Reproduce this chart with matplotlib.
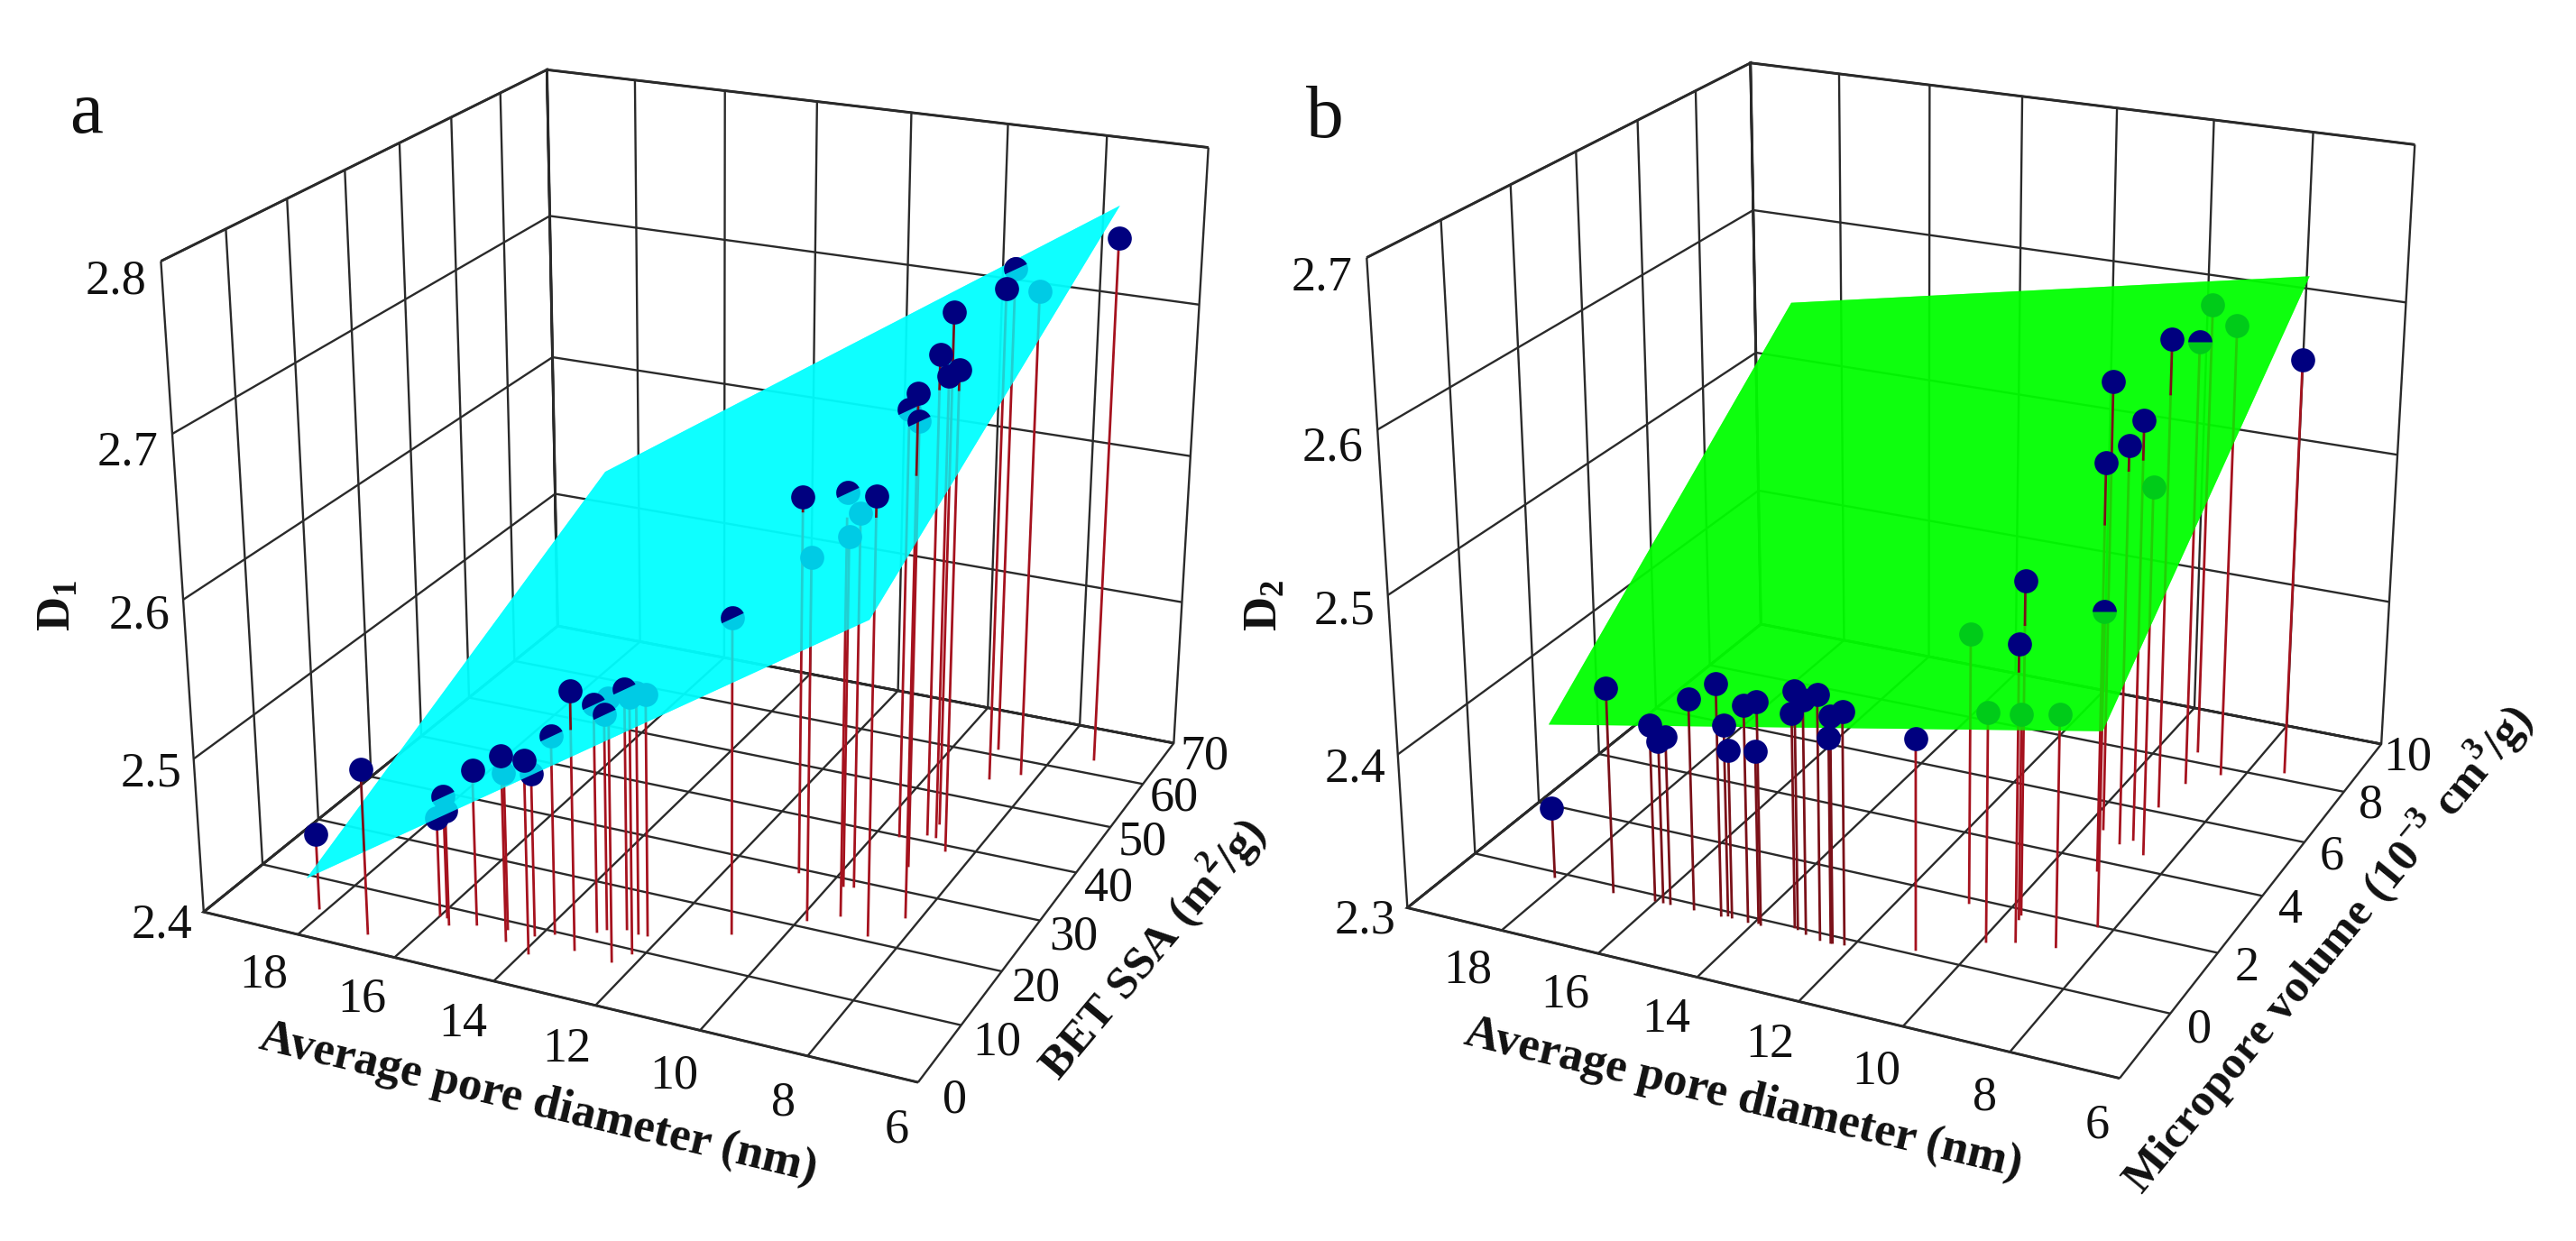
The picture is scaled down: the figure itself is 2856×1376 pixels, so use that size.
import numpy as np
import matplotlib
matplotlib.use('Agg')
import matplotlib.pyplot as plt
from matplotlib.markers import MarkerStyle
from matplotlib.ticker import NullFormatter
from matplotlib.transforms import Affine2D
from mpl_toolkits.mplot3d import proj3d

plt.rcParams['font.family'] = ['Liberation Serif', 'DejaVu Serif']
plt.rcParams['mathtext.fontset'] = 'custom'
plt.rcParams['mathtext.rm'] = 'Liberation Serif'
plt.rcParams['mathtext.bf'] = 'Liberation Serif:bold'
plt.rcParams['grid.color'] = '#2a2a2a'
plt.rcParams['grid.linewidth'] = 0.85

# panel a  pore diameter, BET SSA, D1
a_x = [18.15, 16.87, 15.86, 16.01, 15.70, 15.24, 14.48, 14.65, 13.90, 14.10, 13.80, 13.21, 13.14, 12.42, 13.02, 12.69, 12.22,
       12.25, 12.43, 10.90, 10.72, 9.86, 9.37, 9.57, 9.76, 8.64, 8.27, 9.55, 8.95, 9.09, 8.90, 8.54, 9.04, 8.84, 9.14, 8.34, 7.23]
a_y = [4.96, 2.76, 8.33, 8.35, 7.23, 8.27, 6.74, 8.69, 5.58, 8.68, 9.71, 7.84, 11.58, 7.35, 12.39, 13.13, 9.40,
       12.87, 12.83, 16.29, 29.40, 21.38, 23.40, 28.94, 28.69, 21.05, 25.53, 39.94, 34.76, 41.38, 41.22, 39.03, 43.95, 54.93, 61.53, 57.15, 63.18]
a_z = [2.449, 2.506, 2.479, 2.464, 2.474, 2.500, 2.519, 2.501, 2.523, 2.504, 2.527, 2.564, 2.546, 2.566, 2.538, 2.554, 2.562,
       2.554, 2.554, 2.600, 2.643, 2.630, 2.667, 2.640, 2.625, 2.674, 2.726, 2.679, 2.686, 2.712, 2.700, 2.710, 2.733, 2.727, 2.726, 2.723, 2.750]
# 1 = in front of the plane, 0 = behind it, 2 = cut by it
a_side = [1, 1, 2, 0, 0, 1, 1, 0, 1, 0, 2, 1, 2, 0, 2, 2, 0, 0, 0, 2, 1, 0, 2, 0, 0, 1, 1, 2, 2, 1, 1, 1, 1, 1, 2, 0, 1]
a_plane_x = [18.077, 7.232, 7.232, 18.077]
a_plane_y = [2.52, 2.52, 62.998, 62.998]
a_plane_z = [2.4282, 2.6566, 2.7709, 2.5425]

# panel b  pore diameter, micropore volume, D2
b_x = [18.17, 16.89, 16.04, 15.87, 15.72, 15.23, 14.67, 14.56, 14.46, 14.12, 13.86, 13.93, 13.18, 12.97, 12.64, 13.26, 12.39, 12.17, 12.42,
       10.93, 10.78, 9.91, 9.71, 8.70, 9.43, 9.74, 8.31, 9.13, 9.16, 9.66, 8.98, 8.59, 9.05, 8.94, 9.22, 8.45, 7.34]
b_y = [-0.14, -0.19, -0.15, -0.15, -0.15, -0.15, -0.15, -0.10, -0.13, -0.15, -0.15, -0.11, -0.03, -0.11, -0.19, 0.00, -0.19, -0.16, -0.20,
       0.15, 1.85, 0.83, 1.70, 1.13, 1.02, 1.85, 2.00, 3.69, 4.71, 5.06, 4.92, 4.52, 6.20, 7.20, 8.41, 7.76, 8.28]
b_z = [2.346, 2.433, 2.414, 2.405, 2.409, 2.436, 2.449, 2.423, 2.408, 2.439, 2.443, 2.411, 2.452, 2.449, 2.456, 2.437, 2.444, 2.448, 2.431,
       2.434, 2.473, 2.446, 2.432, 2.448, 2.488, 2.512, 2.500, 2.562, 2.559, 2.592, 2.573, 2.539, 2.607, 2.594, 2.602, 2.600, 2.577]
b_side = [1, 1, 1, 1, 1, 1, 1, 1, 1, 1, 1, 1, 1, 1, 1, 1, 1, 1, 1, 1, 0, 0, 0, 0, 1, 1, 2, 1, 1, 1, 1, 0, 1, 2, 0, 0, 1]
b_plane_x = [18.26, 7.37, 7.37, 18.26]
b_plane_y = [0.003, 0.003, 8.517, 8.517]
b_plane_z = [2.3976, 2.4645, 2.6274, 2.5605]

x_ticks = [20, 18, 16, 14, 12, 10, 8, 6]
a_y_ticks = [0, 10, 20, 30, 40, 50, 60, 70]
a_z_ticks = [2.4, 2.5, 2.6, 2.7, 2.8]
b_y_ticks = [-2, 0, 2, 4, 6, 8, 10]
b_z_ticks = [2.3, 2.4, 2.5, 2.6, 2.7]

FIG_W, FIG_H = 2856, 1376
SERIF = ['Liberation Serif', 'DejaVu Serif']
NAVY = '#00007f'
TICK_SIZE = 19.5


def panel(fig, box, view, x, y, z, side, px, py, pz, color, yt, zt, ylab_x, xlab_dy, zlab_x, cut_angle):
    l, b, w = box
    ax = fig.add_axes([l / FIG_W, b / FIG_H, w / FIG_W, w / FIG_H], projection='3d', computed_zorder=False)
    ax.patch.set_alpha(0)
    ax.set_xlim3d(x_ticks[0], x_ticks[-1])
    ax.set_ylim3d(yt[0], yt[-1])
    ax.set_zlim3d(zt[0], zt[-1])
    ax.view_init(elev=view[0], azim=view[1])
    ax.set_proj_type('persp', focal_length=view[2])
    ax.set_box_aspect(view[3])
    ax.set_xticks(x_ticks)
    ax.set_yticks(yt)
    ax.set_zticks(zt)

    for axis in (ax.xaxis, ax.yaxis, ax.zaxis):
        axis.set_major_formatter(NullFormatter())
        axis.set_pane_color((1, 1, 1, 1))
        axis.pane.set_edgecolor('#222222')
        axis.pane.set_linewidth(1.05)
        axis.line.set_linewidth(0)
        axis._axinfo['tick']['inward_factor'] = 0
        axis._axinfo['tick']['outward_factor'] = 0

    # plane goes in twice: the lower sheet keeps the colour pure, the upper one tints what is behind it
    X = np.array([[px[0], px[1]], [px[3], px[2]]])
    Y = np.array([[py[0], py[1]], [py[3], py[2]]])
    Z = np.array([[pz[0], pz[1]], [pz[3], pz[2]]])
    ax.plot_surface(X, Y, Z, color=color, alpha=0.72, shade=False, linewidth=0, antialiased=True, zorder=1.5)
    ax.plot_surface(X, Y, Z, color=color, alpha=0.8, shade=False, linewidth=0, antialiased=True, zorder=3)

    half = MarkerStyle('o', fillstyle='top', transform=Affine2D().rotate_deg(cut_angle))
    z0 = zt[0]
    for xi, yi, zi, s in zip(x, y, z, side):
        tx = (px[0] - xi) / (px[0] - px[1])
        ty = (yi - py[0]) / (py[2] - py[0])
        zp = pz[0] + tx * (pz[1] - pz[0]) + ty * (pz[3] - pz[0])
        if ty < 0:
            zp = z0
        elif tx < 0 or tx > 1 or ty > 1:
            zp = zi
        cut = min(zp, zi)
        ax.plot([xi, xi], [yi, yi], [z0, cut], color='#a5121e', lw=1.0, zorder=2)
        if s == 1 and cut < zi:
            ax.plot([xi, xi], [yi, yi], [cut, zi], color='#7a1018', lw=1.0, zorder=4)
        if s == 1:
            ax.plot([xi], [yi], [zi], 'o', color=NAVY, ms=9.6, mew=0, zorder=5)
        else:
            ax.plot([xi], [yi], [zi], 'o', color=NAVY, ms=9.6, mew=0, zorder=2.5)
        if s == 2:
            ax.plot([xi], [yi], [zi], marker=half, color=NAVY, ms=9.6, mew=0, zorder=5)

    M = ax.get_proj()

    def tick_text(xv, yv, zv, s):
        u, v, _ = proj3d.proj_transform(xv, yv, zv, M)
        ax.text2D(u, v, s, transform=ax.transData, fontsize=TICK_SIZE, ha='center', va='center',
                  color='#111111', family=SERIF)

    for t in x_ticks[1:]:
        tick_text(t - 0.22, xlab_dy, zt[0], str(t))
    for t in yt:
        if t >= 0:
            tick_text(ylab_x, t, zt[0] - 0.006, str(t))
    for t in zt:
        tick_text(zlab_x, yt[0], t - 0.016, f'{t:.1f}')
    return ax


def label(fig, u, v, s, rot=0, size=19, weight='bold'):
    fig.text(u / FIG_W, 1 - v / FIG_H, s, rotation=rot, rotation_mode='anchor', ha='center', va='center',
             fontsize=size, fontweight=weight, color='#111111', family=SERIF)


fig = plt.figure(figsize=(14.28, 6.88), dpi=200, facecolor='white')

panel(fig, (91.3, 95.2, 1362.6), (22.173, -65.343, 0.4994, (1.125, 1.1386, 1)), a_x, a_y, a_z, a_side,
      a_plane_x, a_plane_y, a_plane_z, '#00ffff', a_y_ticks, a_z_ticks, 5.35, -7.5, 20.95, 25)
panel(fig, (1425.6, 97.7, 1363.2), (22.314, -65.022, 0.5271, (1.1244, 1.128, 1)), b_x, b_y, b_z, b_side,
      b_plane_x, b_plane_y, b_plane_z, '#00ff00', b_y_ticks, b_z_ticks, 5.45, -3.3, 20.95, 0)

label(fig, 597, 1224, 'Average pore diameter (nm)', rot=-13.5)
label(fig, 1278, 1052, r'BET SSA (m$^{\mathbf{2}}$/g)', rot=50, size=18.5)
label(fig, 64, 671, r'D$_{\mathbf{1}}$', rot=90)
label(fig, 96, 127, 'a', size=30, weight='normal')

label(fig, 1933, 1219, 'Average pore diameter (nm)', rot=-13.5)
label(fig, 2580, 1052, r'Micropore volume (10$^{\mathbf{-3}}$ cm$^{\mathbf{3}}$/g)', rot=50.5, size=18.5)
label(fig, 1402, 671, r'D$_{\mathbf{2}}$', rot=90)
label(fig, 1469, 132, 'b', size=30, weight='normal')

fig.savefig('out.png', dpi=200)
